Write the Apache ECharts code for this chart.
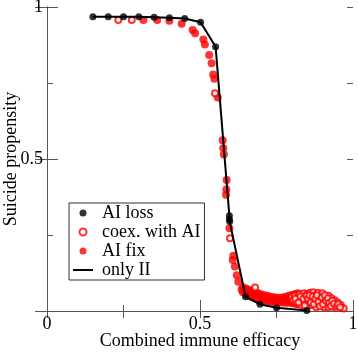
<!DOCTYPE html>
<html><head><meta charset="utf-8">
<script src="https://cdn.jsdelivr.net/npm/echarts@6/dist/echarts.min.js"></script>
<style>html,body{margin:0;padding:0;background:#fff}#c{width:358px;height:352px}</style>
</head><body><div id="c"></div>
<script>
// x = combined immune efficacy, y = suicide propensity
var aiLoss = [[0.15,0.968],[0.2,0.968],[0.25,0.968],[0.3,0.968],[0.35,0.966],[0.4,0.965],[0.45,0.962],[0.502,0.95],[0.551,0.869],[0.596,0.313],[0.596,0.302],[0.597,0.294],[0.649,0.047],[0.696,0.022],[0.75,0.011],[0.849,0.002]];
var onlyII = [[0.15,0.968],[0.2,0.968],[0.25,0.968],[0.3,0.968],[0.35,0.966],[0.4,0.965],[0.45,0.962],[0.502,0.95],[0.551,0.869],[0.596,0.313],[0.597,0.294],[0.649,0.047],[0.696,0.022],[0.75,0.011],[0.849,0.002]];
var coexAI = [[0.233,0.957],[0.277,0.957],[0.549,0.716],[0.598,0.239],[0.68,0.077],
 [0.80,0.045],[0.805,0.035],[0.81,0.05],[0.815,0.03],[0.82,0.045],[0.825,0.055],[0.83,0.035],[0.83,0.02],[0.835,0.05],[0.84,0.058],[0.84,0.03],[0.845,0.042],[0.85,0.015],[0.85,0.055],[0.855,0.03],[0.86,0.06],[0.86,0.045],[0.865,0.02],[0.87,0.035],[0.87,0.062],[0.875,0.05],[0.88,0.012],[0.88,0.028],[0.885,0.06],[0.89,0.04],[0.895,0.052],[0.895,0.02],[0.90,0.058],[0.90,0.032],[0.905,0.012],[0.91,0.045],[0.915,0.025],[0.92,0.05],[0.92,0.012],[0.925,0.036],[0.93,0.042],[0.93,0.02],[0.935,0.03],[0.94,0.035],[0.94,0.012],[0.945,0.022],[0.95,0.028],[0.955,0.015],[0.96,0.02],[0.965,0.01],[0.97,0.008],
 [0.812,0.04],[0.822,0.028],[0.828,0.048],[0.838,0.04],[0.842,0.018],[0.848,0.05],[0.853,0.04],[0.858,0.052],[0.862,0.028],[0.868,0.048],[0.872,0.022],[0.877,0.04],[0.882,0.052],[0.887,0.03],[0.892,0.016],[0.898,0.044],[0.902,0.022],[0.908,0.052],[0.912,0.034],[0.918,0.042],[0.922,0.026],[0.928,0.016],[0.932,0.034],[0.938,0.024],[0.948,0.016],[0.952,0.022],[0.958,0.012]];
var aiFix = [[0.315,0.957],[0.36,0.957],[0.4,0.955],[0.44,0.945],[0.476,0.924],[0.484,0.914],[0.511,0.893],[0.516,0.877],[0.53,0.842],[0.538,0.815],[0.543,0.778],[0.547,0.764],[0.558,0.702],[0.574,0.562],[0.576,0.535],[0.578,0.515],[0.587,0.431],[0.586,0.4],[0.585,0.382],[0.596,0.272],[0.609,0.182],[0.607,0.168],[0.614,0.146],[0.62,0.118],[0.625,0.096],[0.636,0.071],
 [0.64,0.078],[0.64,0.062],[0.645,0.07],[0.65,0.074],[0.65,0.055],[0.655,0.066],[0.66,0.07],[0.66,0.05],[0.665,0.06],[0.67,0.066],[0.67,0.046],[0.675,0.056],[0.68,0.062],[0.68,0.042],[0.685,0.052],[0.69,0.058],[0.69,0.04],[0.695,0.049],[0.70,0.055],[0.70,0.037],[0.705,0.046],[0.71,0.052],[0.71,0.035],[0.715,0.044],[0.72,0.05],[0.72,0.033],[0.725,0.042],[0.73,0.047],[0.73,0.031],[0.735,0.04],[0.74,0.045],[0.74,0.03],[0.745,0.038],[0.75,0.044],[0.75,0.029],[0.755,0.037],[0.76,0.043],[0.76,0.028],[0.765,0.036],[0.77,0.044],[0.77,0.028],[0.775,0.037],[0.78,0.047],[0.78,0.027],[0.785,0.038],[0.79,0.05],[0.79,0.027],[0.795,0.04],[0.80,0.053],[0.80,0.026],[0.805,0.042],[0.81,0.056],[0.81,0.024],[0.815,0.04],[0.82,0.058],[0.82,0.022]];
var xTickLabels = ['0','0.5','1'];
var yTickLabels = ['', '0.5', '1'];

var FONT = '"Liberation Serif", "DejaVu Serif", serif';
var AX = '#555';
var chart = echarts.init(document.getElementById('c'));
function fmtX(v){ return v===0?xTickLabels[0]:(v===0.5?xTickLabels[1]:(v===1?xTickLabels[2]:'')); }
function fmtY(v){ return v===0?yTickLabels[0]:(v===0.5?yTickLabels[1]:(v===1?yTickLabels[2]:'')); }
function minorAxis(pos){
  return {type:'value', position:pos, min:0, max:1, interval:0.25,
    axisLine:{show:false}, axisTick:{show:true, inside:true, length:6, lineStyle:{color:AX}},
    axisLabel:{show:false}, splitLine:{show:false}};
}
chart.setOption({
  animation:false,
  grid:{left:47,right:5,top:7,bottom:41, outerBoundsMode:'none', containLabel:false},
  legend:{
    data:[{name:'AI loss', icon:'circle'},{name:'coex. with AI', icon:'emptyCircle'},{name:'AI fix', icon:'circle'},
          {name:'only II', icon:'path://M0,3L20,3L20,5L0,5Z'}],
    orient:'vertical', left:69, top:203,
    itemWidth:20, itemHeight:7, itemGap:1,
    padding:[1,4,1,4],
    borderColor:'#333', borderWidth:1, backgroundColor:'#fff',
    textStyle:{fontFamily:FONT, fontSize:18, color:'#000', padding:[0,0,0,4]},
    selectedMode:false
  },
  xAxis:[{
    type:'value', min:0, max:1, interval:0.5,
    name:'Combined immune efficacy', nameLocation:'middle', nameGap:21, nameMoveOverlap:false,
    nameTextStyle:{fontFamily:FONT, fontSize:18, color:'#000', verticalAlign:'top'},
    axisLine:{lineStyle:{color:AX,width:1}},
    axisTick:{inside:true, length:11, lineStyle:{color:AX}},
    axisLabel:{fontFamily:FONT, fontSize:18, color:'#000', margin:4, formatter:fmtX},
    splitLine:{show:false}
  },{
    type:'value', position:'top', min:0, max:1, interval:0.25,
    axisLine:{lineStyle:{color:AX,width:1}},
    axisTick:{inside:true, length:7, lineStyle:{color:AX}},
    axisLabel:{show:false}, splitLine:{show:false}
  }, minorAxis('bottom')],
  yAxis:[{
    type:'value', min:0, max:1, interval:0.5,
    name:'Suicide propensity', nameLocation:'middle', nameGap:27, nameMoveOverlap:false,
    nameTextStyle:{fontFamily:FONT, fontSize:18, color:'#000'},
    axisLine:{show:true, lineStyle:{color:AX,width:1}},
    axisTick:{show:true, inside:true, length:11, lineStyle:{color:AX}},
    axisLabel:{fontFamily:FONT, fontSize:18, color:'#000', margin:4, formatter:fmtY},
    splitLine:{show:false}
  },{
    type:'value', position:'right', min:0, max:1, interval:0.5,
    axisLine:{show:true, lineStyle:{color:AX,width:1}},
    axisTick:{show:true, inside:true, length:12, lineStyle:{color:AX}},
    axisLabel:{show:false}, splitLine:{show:false}
  }, minorAxis('left'), minorAxis('right')],
  series:[
    {name:'AI fix', type:'scatter', data:aiFix, symbol:'circle', symbolSize:8, itemStyle:{color:'#f00'}, z:2},
    {name:'coex. with AI', type:'scatter', data:coexAI, symbol:'emptyCircle', symbolSize:6, itemStyle:{color:'#f00', borderWidth:1}, z:3},
    {name:'only II', type:'line', data:onlyII, symbol:'none', lineStyle:{color:'#000', width:2}, itemStyle:{color:'#000'}, z:4},
    {name:'AI loss', type:'scatter', data:aiLoss, symbol:'circle', symbolSize:7, itemStyle:{color:'#000'}, z:5}
  ]
});
</script>
</body></html>
